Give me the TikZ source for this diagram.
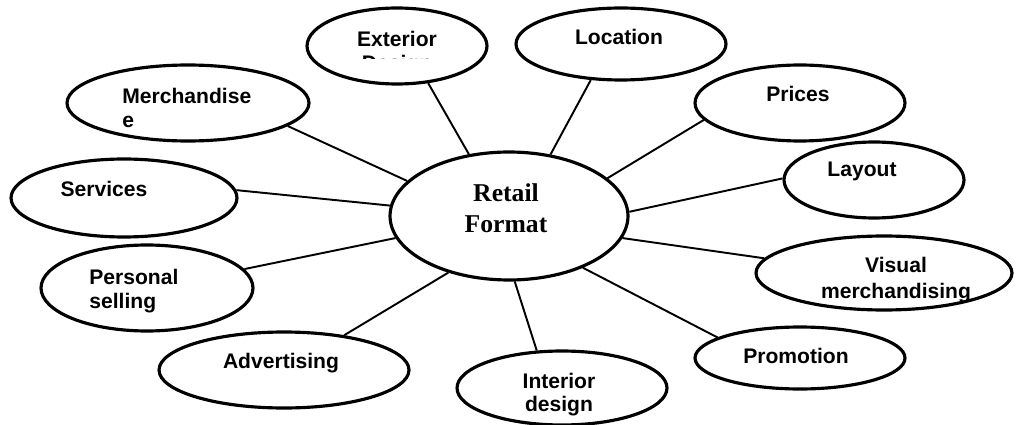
\documentclass[tikz,border=0pt]{standalone}
\usepackage{fontspec}
\newfontfamily\arialf{Liberation Sans}
\newfontfamily\timesf{Liberation Serif}
\usetikzlibrary{shapes.geometric}
\begin{document}
\begin{tikzpicture}[x=0.02cm,y=-0.02cm,
  oval/.style={draw, ellipse, line width=1.8pt, inner sep=0pt},
  link/.style={draw, line width=1.1pt},
  lbl/.style={font=\arialf\bfseries\fontsize{12}{14}\selectfont, inner sep=0pt},
  ctr/.style={font=\timesf\bfseries\fontsize{14.6}{17}\selectfont, inner sep=0pt}]
\useasboundingbox (0,0) rectangle (1016,425);

% ellipses
\node[oval, minimum width=4.76cm, minimum height=2.56cm] (c) at (509,216) {};
\node[oval, minimum width=4.84cm, minimum height=1.52cm] (merch) at (188,103) {};
\node[oval, minimum width=3.6cm, minimum height=1.52cm] (ext) at (397,46) {};
\node[oval, minimum width=4.2cm, minimum height=1.44cm] (loc) at (621,44) {};
\node[oval, minimum width=4.2cm, minimum height=1.52cm] (prices) at (800,103) {};
\node[oval, minimum width=3.6cm, minimum height=1.52cm] (layout) at (874,180) {};
\node[oval, minimum width=5.12cm, minimum height=1.48cm] (visual) at (884,273) {};
\node[oval, minimum width=4.2cm, minimum height=1.24cm] (promo) at (800,358) {};
\node[oval, minimum width=4.2cm, minimum height=1.48cm] (interior) at (562,388) {};
\node[oval, minimum width=5.0cm, minimum height=1.52cm] (advert) at (284,370) {};
\node[oval, minimum width=4.24cm, minimum height=1.72cm] (pers) at (147,288) {};
\node[oval, minimum width=4.52cm, minimum height=1.56cm] (serv) at (124,198) {};

% connectors
\draw[link] (merch.-13) -- (c.161);
\draw[link] (ext.-50) -- (c.123);
\draw[link] (loc.230) -- (c.56);
\draw[link] (prices.190) -- (c.21);
\draw[link] (layout.179) -- (c.2);
\draw[link] (c.-11) -- (visual.173);
\draw[link] (c.-35) -- (promo.166);
\draw[link] (c.-85) -- (interior.124);
\draw[link] (c.223) -- (advert.30);
\draw[link] (c.191) -- (pers.11);
\draw[link] (c.175) -- (serv.4);

% texts
\node[ctr, anchor=base] (t-retail) at (506,202) {Retail};
\node[ctr, anchor=base] (t-format) at (506,233) {Format};
\node[lbl, anchor=base] (t-ext) at (397,47) {Exterior};
\begin{scope}
  \clip (300,0) rectangle (500,59);
  \node[lbl, anchor=base] (t-design) at (397,71) {Design};
\end{scope}
\node[lbl, anchor=base] (t-loc) at (619,45) {Location};
\node[lbl, anchor=base west] (t-merch1) at (122,104) {Merchandise};
\node[lbl, anchor=base west] (t-merch2) at (122,128) {e};
\node[lbl, anchor=base] (t-prices) at (798,102) {Prices};
\node[lbl, anchor=base] (t-layout) at (862,177) {Layout};
\node[lbl, anchor=base] (t-serv) at (104,197) {Services};
\node[lbl, anchor=base west] (t-pers1) at (89,284) {Personal};
\node[lbl, anchor=base west] (t-pers2) at (89,308) {selling};
\node[lbl, anchor=base] (t-adv) at (281,368) {Advertising};
\node[lbl, anchor=base] (t-int1) at (559,388) {Interior};
\node[lbl, anchor=base] (t-int2) at (559,411) {design};
\node[lbl, anchor=base] (t-promo) at (796,363) {Promotion};
\node[lbl, anchor=base] (t-vis1) at (896,273) {Visual};
\node[lbl, anchor=base] (t-vis2) at (896,298) {merchandising};
\end{tikzpicture}
\end{document}
